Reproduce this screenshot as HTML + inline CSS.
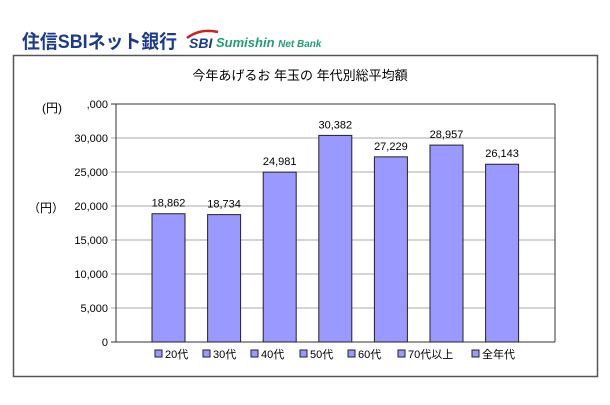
<!DOCTYPE html>
<html><head><meta charset="utf-8"><style>
body{margin:0;background:#fff;width:610px;height:400px;overflow:hidden;font-family:"Liberation Sans","Noto Sans CJK JP",sans-serif;}
</style></head><body>
<svg width="610" height="400" xmlns="http://www.w3.org/2000/svg">
<text x="22" y="48" font-size="19" font-weight="bold" fill="#1a3a8c" textLength="155" lengthAdjust="spacingAndGlyphs">住信SBIネット銀行</text>
<path d="M187 38 Q200 28 218 32" stroke="#d02020" stroke-width="2.5" fill="none"/>
<text x="189" y="48" font-size="14" font-weight="bold" font-style="italic" fill="#1a3a8c">SBI</text>
<text x="216" y="47" font-size="13" font-weight="bold" font-style="italic" fill="#20a070">Sumishin <tspan font-size="10">Net Bank</tspan></text>
<rect x="13.5" y="55.5" width="584" height="321" fill="#fff" stroke="#555" stroke-width="1.5"/>
<text x="300" y="80" font-size="13" text-anchor="middle" fill="#000">今年あげるお 年玉の 年代別総平均額</text>
<g id="grid"></g>
<g id="bars"></g>
<g id="legend"></g>
<text x="42" y="112" font-size="12" fill="#000">(円)</text>
<text x="28" y="212" font-size="12" fill="#000">（円）</text>
</svg>
<script>
const categories=["20代","30代","40代","50代","60代","70代以上","全年代"];
const values=[18862,18734,24981,30382,27229,28957,26143];
const valueLabels=["18,862","18,734","24,981","30,382","27,229","28,957","26,143"];
const ticks=[0,5000,10000,15000,20000,25000,30000,35000];
const tickLabels=["0","5,000","10,000","15,000","20,000","25,000","30,000",",000"];
const NS="http://www.w3.org/2000/svg";
const L=116,R=555,T=104,B=342,maxV=35000;
const y=v=>B-(v/maxV)*(B-T);
const xc=i=>168.5+i*55.6;
function mk(tag,attrs,parent){const e=document.createElementNS(NS,tag);for(const k in attrs)e.setAttribute(k,attrs[k]);parent.appendChild(e);return e;}
const grid=document.getElementById('grid'),bars=document.getElementById('bars'),leg=document.getElementById('legend');
ticks.forEach((t,i)=>{
 const yy=y(t);
 const ln=mk('line',{x1:L-5,x2:R,y1:yy,y2:yy,stroke:(i===0||i===ticks.length-1)?'#333':'#aaa','stroke-width':1},grid);
 
 
 const tx=mk('text',{x:L-8,y:yy+4,'font-size':11,'text-anchor':'end',fill:'#000'},grid);
 tx.textContent=tickLabels[i];
 
 
});
const ax=mk('line',{x1:L,x2:L,y1:T,y2:B,stroke:'#333'},grid);


const rx=mk('line',{x1:R,x2:R,y1:T,y2:B,stroke:'#333'},grid);


values.forEach((v,i)=>{
 const r=mk('rect',{x:xc(i)-16.5,y:y(v),width:33,height:B-y(v),fill:'#9999ff',stroke:'#222','stroke-width':1},bars);
 
 
 const t=mk('text',{x:xc(i),y:y(v)-7,'font-size':11,'text-anchor':'middle',fill:'#000'},bars);
 t.textContent=valueLabels[i];
 
 
});
const legX=[155,203,251,300,348,398,472];
categories.forEach((c,i)=>{
 const s=mk('rect',{x:legX[i],y:350,width:7,height:7,fill:'#9999ff',stroke:'#222'},leg);
 
 
 const t=mk('text',{x:legX[i]+10,y:358,'font-size':11,fill:'#000'},leg);
 t.textContent=c;
 
 
});
</script>
</body></html>
